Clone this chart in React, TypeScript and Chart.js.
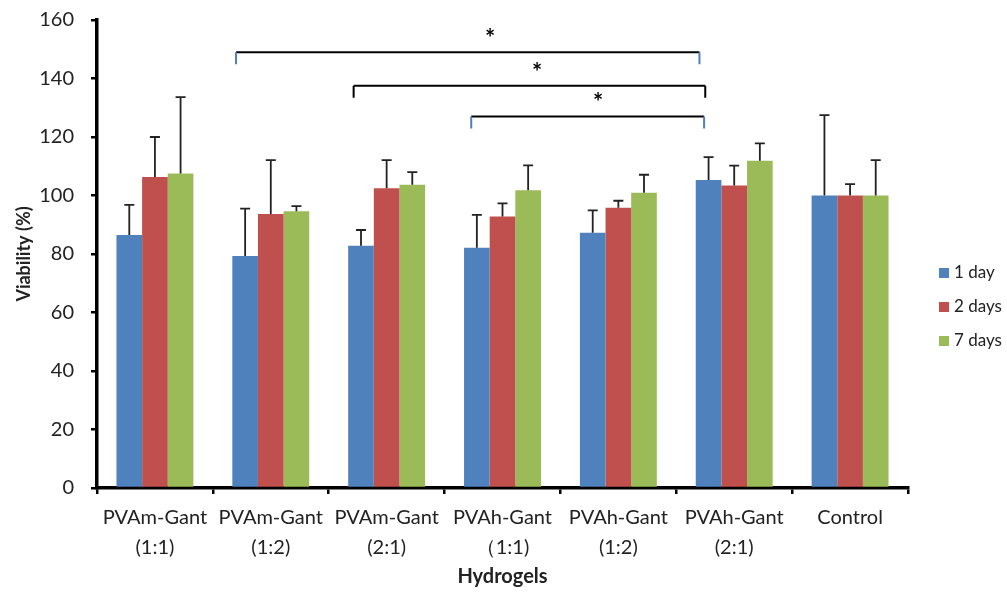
import React, { useEffect, useRef } from "react";
import { Chart, registerables } from "chart.js";
Chart.register(...registerables);

const categories: string[][] = [
  ["PVAm-Gant", "(1:1)"],
  ["PVAm-Gant", "(1:2)"],
  ["PVAm-Gant", "(2:1)"],
  ["PVAh-Gant", "\uFF081:1)"],
  ["PVAh-Gant", "(1:2)"],
  ["PVAh-Gant", "(2:1)"],
  ["Control"],
];
const seriesNames = ["1 day", "2 days", "7 days"];
const seriesColors = ["#4F81BD", "#C0504D", "#9BBB59"];
const day1 = [86.5, 79.3, 82.8, 82.1, 87.3, 105.3, 100];
const day2 = [106.3, 93.7, 102.5, 92.8, 95.8, 103.4, 100];
const day7 = [107.5, 94.6, 103.7, 101.8, 100.9, 111.9, 100];
const err1 = [10.3, 16.2, 5.4, 11.3, 7.6, 7.8, 27.5];
const err2 = [13.7, 18.4, 9.6, 4.5, 2.4, 6.8, 3.9];
const err7 = [26.1, 1.8, 4.3, 8.5, 6.2, 5.9, 12.1];
const yTicks = [0, 20, 40, 60, 80, 100, 120, 140, 160];

// significance brackets
const bracketFrom = [1, 2, 3];
const bracketTo = [5, 5, 5];
const bracketLevel = [149, 137.5, 127];
const bracketEndColor = ["#4F81BD", "#000000", "#4F81BD"];

const FONT = "Lato, 'Open Sans', sans-serif";

const errorBarPlugin = {
  id: "errorBars",
  afterDatasetsDraw(chart: any) {
    const ctx = chart.ctx;
    const y = chart.scales.y;
    const errs = [err1, err2, err7];
    ctx.save();
    chart.data.datasets.forEach((ds: any, di: number) => {
      const meta = chart.getDatasetMeta(di);
      meta.data.forEach((bar: any, i: number) => {
        const v = ds.data[i];
        const top = y.getPixelForValue(v + errs[di][i]);
        const x = bar.x;
        ctx.strokeStyle = "#222";
        ctx.lineWidth = 1.8;
        ctx.beginPath();
        ctx.moveTo(x, bar.y);
        ctx.lineTo(x, top);
        ctx.moveTo(x - 5, top);
        ctx.lineTo(x + 5, top);
        ctx.stroke();
      });
    });
    ctx.restore();
  },
};

const annotationPlugin = {
  id: "annotations",
  afterDraw(chart: any) {
    const ctx = chart.ctx;
    const xs = chart.scales.x;
    const ys = chart.scales.y;
    const cw = (xs.right - xs.left) / categories.length;
    const offs = [[-0.30, -0.30], [-0.285, -0.25], [-0.27, -0.26]];
    ctx.save();
    bracketFrom.forEach((f, k) => {
      const x1 = xs.getPixelForValue(f) + offs[k][0] * cw;
      const x2 = xs.getPixelForValue(bracketTo[k]) + offs[k][1] * cw;
      const yy = ys.getPixelForValue(bracketLevel[k]);
      const drop = 12;
      ctx.lineWidth = 2;
      ctx.strokeStyle = "#000";
      ctx.beginPath();
      ctx.moveTo(x1, yy);
      ctx.lineTo(x2, yy);
      ctx.stroke();
      ctx.strokeStyle = bracketEndColor[k];
      ctx.beginPath();
      ctx.moveTo(x1, yy);
      ctx.lineTo(x1, yy + drop);
      ctx.moveTo(x2, yy);
      ctx.lineTo(x2, yy + drop);
      ctx.stroke();
      ctx.fillStyle = "#000";
      ctx.font = "bold 24px " + FONT;
      ctx.textAlign = "center";
      ctx.textBaseline = "middle";
      const starX = [490, 537, 598][k];
      ctx.fillText("*", starX, yy - 13);
    });
    // legend
    ctx.font = "17px " + FONT;
    ctx.textAlign = "left";
    ctx.textBaseline = "middle";
    seriesNames.forEach((n, i) => {
      const cy = 273 + i * 34;
      ctx.fillStyle = seriesColors[i];
      ctx.fillRect(939, cy - 5, 10, 10);
      ctx.fillStyle = "#222";
      ctx.fillText(n, 954, cy);
    });
    ctx.restore();
  },
};

export default function App() {
  const ref = useRef<HTMLCanvasElement | null>(null);
  useEffect(() => {
    if (!ref.current) return;
    const datasets = [day1, day2, day7].map((d, i) => ({
      label: seriesNames[i],
      data: d,
      backgroundColor: seriesColors[i],
      borderWidth: 0,
      categoryPercentage: 0.664,
      barPercentage: 1.0,
    }));
    const chart = new Chart(ref.current, {
      type: "bar",
      data: { labels: categories, datasets },
      options: {
        animation: false,
        responsive: false,
        maintainAspectRatio: false,
        layout: { padding: { top: 20, right: 99, left: 4, bottom: 0 } },
        plugins: { legend: { display: false }, tooltip: { enabled: false } },
        scales: {
          x: {
            afterFit: (axis: any) => {
              axis.height = 104;
            },
            grid: {
              display: true,
              drawOnChartArea: false,
              drawTicks: true,
              tickLength: 6,
              color: "#000",
              lineWidth: 2.5,
              offset: true,
            },
            border: { color: "#000", width: 3.5 },
            ticks: {
              color: "#222",
              font: { family: FONT, size: 20, lineHeight: 1.5 },
              maxRotation: 0,
              autoSkip: false,
              padding: 9,
            },
            title: {
              display: true,
              text: "Hydrogels",
              color: "#222",
              font: { family: FONT, size: 20, weight: "bold" },
              padding: { top: 0, bottom: 3 },
            },
          },
          y: {
            min: 0,
            max: 160,
            afterFit: (axis: any) => {
              axis.width = 93;
              axis.paddingTop = 0;
              axis.paddingBottom = 0;
            },
            afterBuildTicks: (axis: any) => {
              axis.ticks = yTicks.map((v) => ({ value: v }));
            },
            grid: {
              display: true,
              drawOnChartArea: false,
              drawTicks: true,
              tickLength: 6,
              color: "#000",
              lineWidth: 2.5,
            },
            border: { color: "#000", width: 3.5 },
            ticks: {
              color: "#222",
              font: { family: FONT, size: 20 },
              padding: 17,
            },
            title: {
              display: true,
              text: "Viability (%)",
              color: "#222",
              font: { family: FONT, size: 18, weight: "bold" },
              padding: { top: 9, bottom: 10 },
            },
          },
        },
      },
      plugins: [errorBarPlugin, annotationPlugin],
    });
    return () => chart.destroy();
  }, []);
  return (
    <div style={{ position: "fixed", left: 0, top: 0, width: 1007, height: 592, background: "#fff" }}>
      <canvas ref={ref} width={1007} height={592} style={{ width: 1007, height: 592 }} />
    </div>
  );
}
